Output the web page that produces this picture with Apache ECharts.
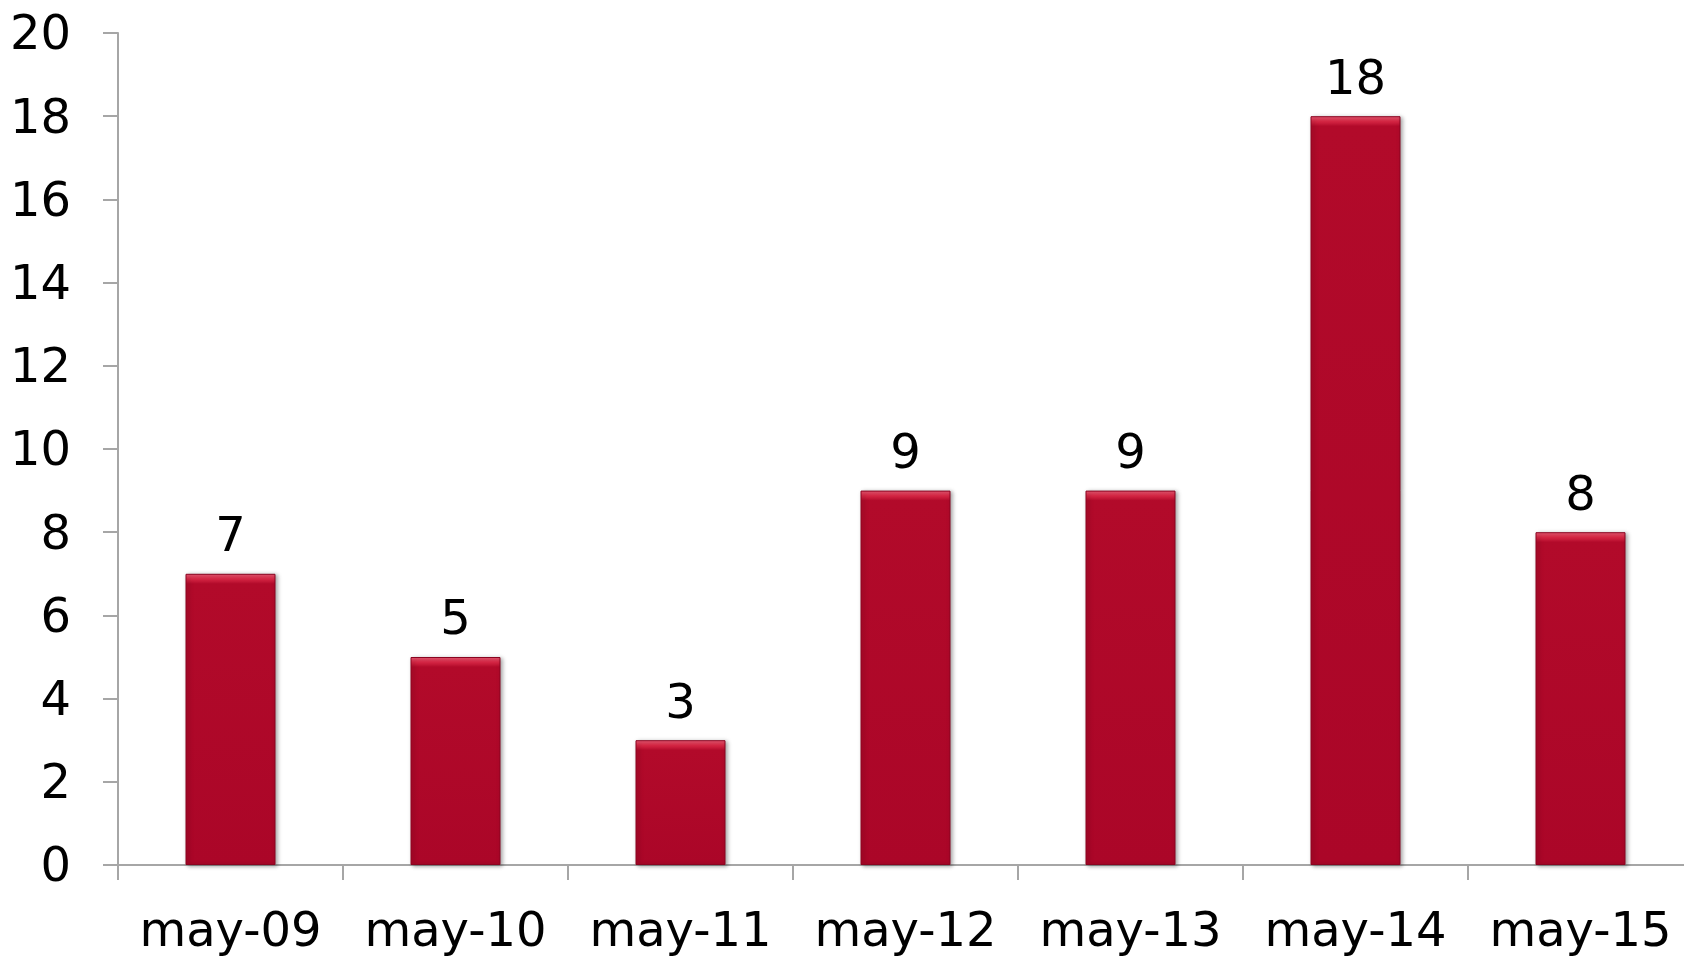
<!DOCTYPE html>
<html><head><meta charset="utf-8">
<script src="https://cdn.jsdelivr.net/npm/echarts@6/dist/echarts.min.js"></script>
<style>html,body{margin:0;padding:0;background:#fff}#c{width:1684px;height:956px}</style>
</head><body><div id="c"></div>
<script>
const categories = ['may-09','may-10','may-11','may-12','may-13','may-14','may-15'];
const values = [7, 5, 3, 9, 9, 18, 8];
const yTicks = {min: 0, max: 20, interval: 2};

const gridTop = 33, gridBottomY = 865;
const pxPerUnit = (gridBottomY - gridTop) / (yTicks.max - yTicks.min);

const chart = echarts.init(document.getElementById('c'), null, {renderer: 'canvas'});
const font = 'DejaVu Sans, Verdana, sans-serif';
chart.setOption({
  animation: false,
  backgroundColor: '#ffffff',
  grid: {left: 118, top: gridTop, width: 1575, height: gridBottomY - gridTop, containLabel: false, outerBoundsMode: 'none'},
  xAxis: {
    type: 'category',
    data: categories,
    axisLine: {lineStyle: {color: '#a6a6a6', width: 2}},
    axisTick: {show: true, length: 15, lineStyle: {color: '#a6a6a6', width: 2}},
    axisLabel: {color: '#000', fontFamily: font, fontSize: 48, margin: 45, interval: 0},
    splitLine: {show: false}
  },
  yAxis: {
    type: 'value',
    min: yTicks.min, max: yTicks.max, interval: yTicks.interval,
    axisLine: {show: true, lineStyle: {color: '#a6a6a6', width: 2}},
    axisTick: {show: true, length: 15, lineStyle: {color: '#a6a6a6', width: 2}},
    axisLabel: {
      color: '#000', fontFamily: font, fontSize: 48, margin: 47,
      formatter: '{a|{value}}',
      rich: {a: {color: '#000', fontFamily: font, fontSize: 48, padding: [8, 0, 0, 0]}}
    },
    splitLine: {show: false}
  },
  series: [{
    type: 'bar',
    data: values,
    barWidth: 90,
    itemStyle: {
      color: function (p) {
        const h = p.value * pxPerUnit;
        const e = Math.min(0.5, 10 / h);
        return new echarts.graphic.LinearGradient(0, 0, 0, 1, [
          {offset: 0, color: '#ee5c76'},
          {offset: e * 0.5, color: '#d82846'},
          {offset: e, color: '#b20a2a'},
          {offset: 1, color: '#ab0628'}
        ]);
      },
      borderColor: '#8a0420',
      borderWidth: 1,
      shadowColor: 'rgba(0,0,0,0.35)',
      shadowBlur: 4,
      shadowOffsetX: 2,
      shadowOffsetY: 1
    },
    label: {
      show: true, position: 'top', distance: 11,
      color: '#000', fontFamily: font, fontSize: 48
    }
  }]
});
</script></body></html>
